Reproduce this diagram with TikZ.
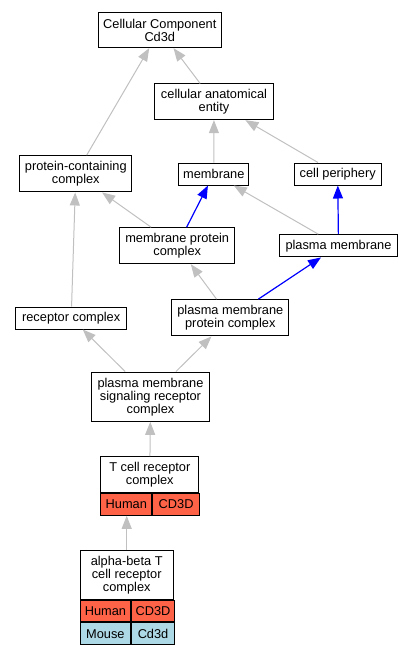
\documentclass[tikz,border=0pt]{standalone}
\usepackage{fontspec}
\setmainfont{Liberation Sans}
\usetikzlibrary{arrows.meta}
\definecolor{edgegray}{HTML}{C0C0C0}
\definecolor{human}{HTML}{FF6347}
\definecolor{mouse}{HTML}{ADD8E6}
\begin{document}
\begin{tikzpicture}[x=1pt,y=-1pt,
        term/.style={draw=black,line width=1pt,fill=white,inner sep=0pt,align=center,
                     font=\fontsize{12.8}{13}\selectfont},
        cell/.style={term,anchor=north west,minimum height=21.6pt},
        isa/.style={draw=edgegray,line width=1pt,-{Triangle[length=13pt,width=10pt]}},
        partof/.style={draw=blue,line width=1.2pt,-{Triangle[length=13pt,width=10pt]}}]
        \useasboundingbox (0,0) rectangle (413,653);
        \node[term,minimum width=122.5pt,minimum height=35.3pt] (cc) at (159.8,30) {Cellular Component\\Cd3d};
        \node[term,minimum width=118.7pt,minimum height=35.7pt] (cae) at (214,101.8) {cellular anatomical\\entity};
        \node[term,minimum width=112.3pt,minimum height=36.3pt] (pcc) at (75.8,173.8) {protein-containing\\complex};
        \node[term,minimum width=70.3pt,minimum height=22pt] (mem) at (213.8,174) {membrane};
        \node[term,minimum width=86.7pt,minimum height=22pt] (cp) at (337.7,174) {cell periphery};
        \node[term,minimum width=115pt,minimum height=36pt] (mpc) at (177.2,245.7) {membrane protein\\complex};
        \node[term,minimum width=117.7pt,minimum height=22.3pt] (pm) at (338.5,245.8) {plasma membrane};
        \node[term,minimum width=111pt,minimum height=22pt] (rc) at (71.2,318) {receptor complex};
        \node[term,minimum width=117.3pt,minimum height=36.3pt] (pmpc) at (230.3,317.8) {plasma membrane\\protein complex};
        \node[term,minimum width=117.7pt,minimum height=49.3pt] (pmsrc) at (150.5,396.7) {plasma membrane\\signaling receptor\\complex};
        \node[term,minimum width=97.7pt,minimum height=36pt] (tcr) at (149.8,474.7) {T cell receptor\\complex};
        \node[cell,fill=human,minimum width=50.7pt] (tcrhs) at (tcr.south west) {Human};
        \node[cell,fill=human,minimum width=47pt] (tcrhg) at (tcrhs.north east) {CD3D};
        \node[term,minimum width=93.3pt,minimum height=48.6pt] (abtcr) at (126.7,575) {alpha-beta T\\cell receptor\\complex};
        \node[cell,fill=human,minimum width=50.7pt] (abhs) at (abtcr.south west) {Human};
        \node[cell,fill=human,minimum width=42.6pt] (abhg) at (abhs.north east) {CD3D};
        \node[cell,fill=mouse,minimum width=50.7pt] (abmm) at (abhs.south west) {Mouse};
        \node[cell,fill=mouse,minimum width=42.6pt] (abmg) at (abmm.north east) {Cd3d};
        \draw[isa] (pcc) -- (cc);
        \draw[isa] (cae) -- (cc);
        \draw[isa] (mem) -- (cae);
        \draw[isa] (cp) -- (cae);
        \draw[isa] (mpc) -- (pcc);
        \draw[partof] (mpc) -- (mem);
        \draw[isa] (pm) -- (mem);
        \draw[partof] (pm) -- (cp);
        \draw[isa] (rc) -- (pcc);
        \draw[isa] (pmpc) -- (mpc);
        \draw[partof] (pmpc) -- (pm);
        \draw[isa] (pmsrc) -- (rc);
        \draw[isa] (pmsrc) -- (pmpc);
        \draw[isa] (tcr) -- (pmsrc);
        \draw[isa] (abtcr.north) -- (abtcr.north |- tcrhs.south);
\end{tikzpicture}
\end{document}
